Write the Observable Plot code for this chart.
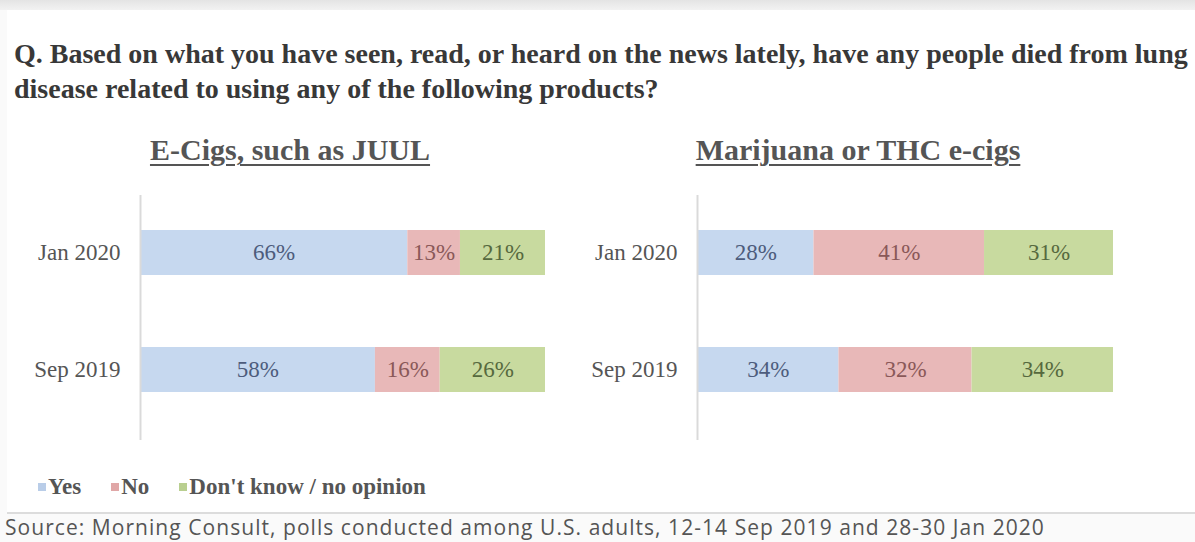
<!DOCTYPE html>
<html>
<head>
<meta charset="utf-8">
<script src="https://cdn.jsdelivr.net/npm/d3@7"></script>
<script src="https://cdn.jsdelivr.net/npm/@observablehq/plot@0.6"></script>
<style>
  html, body { margin: 0; padding: 0; }
  body { width: 1195px; height: 542px; position: relative; overflow: hidden; background: #fafafa; font-family: "Liberation Serif", serif; }
  #topstrip { position: absolute; left: 0; top: 0; width: 1195px; height: 10px; background: linear-gradient(#e4e4e4, #f2f2f2); }
  #panel { position: absolute; left: 7px; top: 10px; width: 1188px; height: 502px; background: #fff; border-bottom: 2px solid #dcdcdc; }
  #title { position: absolute; left: 14px; top: 36px; width: 1180px; font-weight: bold; font-size: 28px; line-height: 35px; color: #383838; margin: 0; white-space: nowrap; }
  .sub { position: absolute; top: 133px; font-weight: bold; font-size: 30px; color: #555; text-decoration: underline; text-decoration-thickness: 2px; text-underline-offset: 4px; white-space: nowrap; transform: translateX(-50%); }
  .chart { position: absolute; top: 195px; }
  #legend { position: absolute; left: 38px; top: 474px; font-weight: bold; font-size: 23px; color: #555; display: flex; align-items: center; white-space: nowrap; }
  #legend span.sw { display: inline-block; width: 8px; height: 8px; margin-right: 2px; }
  #legend span.item { display: inline-flex; align-items: center; margin-right: 30px; }
  #source { position: absolute; left: 5px; top: 513px; font-family: "Open Sans", sans-serif; font-size: 21px; letter-spacing: 1.05px; color: #555; white-space: nowrap; }
</style>
</head>
<body>
<div id="topstrip"></div>
<div id="panel"></div>
<div id="title"></div>
<div id="sub1" class="sub" style="left:290px"></div>
<div id="sub2" class="sub" style="left:858px"></div>
<div id="chart1" class="chart" style="left:0px"></div>
<div id="chart2" class="chart" style="left:580px"></div>
<div id="legend"></div>
<div id="source"></div>
<script>
// ---- data ----
const titleLines = [
  "Q. Based on what you have seen, read, or heard on the news lately, have any people died from lung",
  "disease related to using any of the following products?"
];
const panelTitles = ["E-Cigs, such as JUUL", "Marijuana or THC e-cigs"];
const periods = ["Jan 2020", "Sep 2019"];
const responses = ["Yes", "No", "Don't know / no opinion"];
const ecigsYes = [66, 58];
const ecigsNo = [13, 16];
const ecigsDK = [21, 26];
const thcYes = [28, 34];
const thcNo = [41, 32];
const thcDK = [31, 34];
const sourceText = "Source: Morning Consult, polls conducted among U.S. adults, 12-14 Sep 2019 and 28-30 Jan 2020";

const barColors = {"Yes": "#c6d8ef", "No": "#e8b8b8", "Don't know / no opinion": "#c8da9f"};
const textColors = {"Yes": "#4d5c7c", "No": "#8a5858", "Don't know / no opinion": "#56693e"};
const legendColors = {"Yes": "#b9cde8", "No": "#e0a7a7", "Don't know / no opinion": "#b9cf90"};

function rows(yes, no, dk) {
  const out = [];
  periods.forEach((p, i) => {
    out.push({period: p, resp: responses[0], value: yes[i]});
    out.push({period: p, resp: responses[1], value: no[i]});
    out.push({period: p, resp: responses[2], value: dk[i]});
  });
  return out;
}

function chart(data, mLeft, mRight) {
  return Plot.plot({
    width: 580,
    height: 245,
    marginLeft: mLeft,
    marginRight: mRight,
    marginTop: 0,
    marginBottom: 0,
    style: {fontFamily: "Liberation Serif, serif", background: "transparent", overflow: "visible"},
    x: {domain: [0, 100], axis: null},
    y: {domain: periods, paddingInner: 0.613, paddingOuter: 0.349, align: 0.424, label: null},
    color: {type: "identity"},
    marks: [
      Plot.barX(data, Plot.stackX({x: "value", y: "period", fill: d => barColors[d.resp]})),
      Plot.ruleX([0], {stroke: "#dadada", strokeWidth: 2}),
      Plot.text(data, Plot.stackX({x: "value", y: "period", text: d => d.value + "%", fill: d => textColors[d.resp], fontSize: 23})),
      Plot.axisY({tickSize: 0, tickPadding: 20, fontSize: 23, color: "#555", label: null})
    ]
  });
}

const t = document.getElementById("title");
titleLines.forEach((l, i) => { if (i) t.append(document.createElement("br")); t.append(document.createTextNode(l)); });
document.getElementById("sub1").textContent = panelTitles[0];
document.getElementById("sub2").textContent = panelTitles[1];
document.getElementById("chart1").append(chart(rows(ecigsYes, ecigsNo, ecigsDK), 140, 35));
document.getElementById("chart2").append(chart(rows(thcYes, thcNo, thcDK), 117, 47));

const leg = document.getElementById("legend");
responses.forEach(r => {
  const item = document.createElement("span");
  item.className = "item";
  const sw = document.createElement("span");
  sw.className = "sw";
  sw.style.background = legendColors[r];
  item.append(sw, document.createTextNode(r));
  leg.append(item);
});
document.getElementById("source").textContent = sourceText;
</script>
</body>
</html>
